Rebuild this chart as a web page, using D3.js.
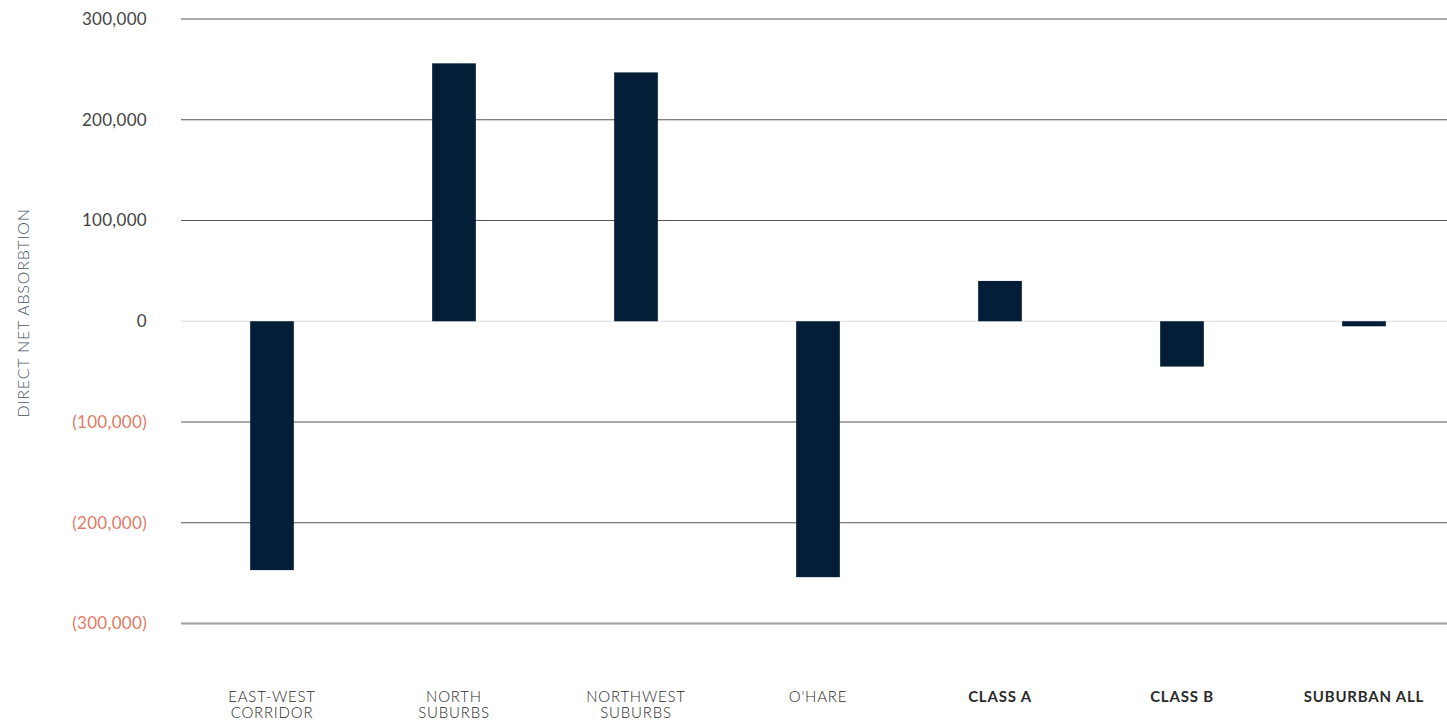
<!DOCTYPE html>
<html>
<head>
<meta charset="utf-8">
<script src="https://cdn.jsdelivr.net/npm/d3@7"></script>
<style>
  body { margin: 0; background: #fff; }
  svg text { font-family: Lato, "Open Sans", sans-serif; }
</style>
</head>
<body>
<div id="chart"></div>
<script>
var svgWidth = 1447;
var svgHeight = 725;

// data
var categories = ["EAST-WEST|CORRIDOR", "NORTH|SUBURBS", "NORTHWEST|SUBURBS", "O'HARE", "CLASS A", "CLASS B", "SUBURBAN ALL"];
var boldLabels = ["CLASS A", "CLASS B", "SUBURBAN ALL"];
var absorption = [-247000, 256000, 247000, -254000, 40000, -45000, -5000];
var yTicks = [300000, 200000, 100000, 0, -100000, -200000, -300000];

var plotLeft = 181, plotRight = 1447, plotTop = 19, plotBottom = 623.5;

var svg = d3.select("#chart")
    .append("svg")
    .attr("width", svgWidth)
    .attr("height", svgHeight);

var xScale = d3.scaleBand()
    .domain(categories)
    .range([plotLeft, plotLeft + 182 * 7])
    .paddingInner(0.76)
    .paddingOuter(0.38);

var yScale = d3.scaleLinear()
    .domain([-300000, 300000])
    .range([plotBottom, plotTop]);

var fmt = d3.format(",");

// gridlines
svg.append("g")
    .selectAll("line")
    .data(yTicks)
    .enter()
    .append("line")
    .attr("x1", plotLeft)
    .attr("x2", plotRight)
    .attr("y1", d => yScale(d))
    .attr("y2", d => yScale(d))
    .attr("stroke", d => d === 0 ? "#dcdcdc" : (d === -300000 ? "#a0a0a0" : "#555"))
    .attr("stroke-width", d => d === -300000 ? 2 : 1);

// y tick labels
svg.append("g")
    .selectAll("text")
    .data(yTicks)
    .enter()
    .append("text")
    .attr("x", 147)
    .attr("y", d => yScale(d))
    .attr("dy", "0.35em")
    .style("text-anchor", "end")
    .style("font-size", "17px")
    .style("letter-spacing", "0.3px")
    .style("fill", d => d < 0 ? "#e07a66" : "#444")
    .text(d => d < 0 ? "(" + fmt(-d) + ")" : fmt(d));

// bars
svg.append("g")
    .selectAll("rect")
    .data(absorption)
    .enter()
    .append("rect")
    .attr("x", (d, i) => xScale(categories[i]))
    .attr("width", xScale.bandwidth())
    .attr("y", d => yScale(Math.max(0, d)))
    .attr("height", d => Math.abs(yScale(d) - yScale(0)))
    .attr("fill", "#041e37");

// x labels
var xLabels = svg.append("g")
    .selectAll("text")
    .data(categories)
    .enter()
    .append("text")
    .attr("x", d => xScale(d) + xScale.bandwidth() / 2)
    .attr("y", 702)
    .style("text-anchor", "middle")
    .style("font-size", "15px")
    .style("letter-spacing", "0.8px")
    .style("fill", "#2a2a2a")
    .style("font-weight", d => boldLabels.includes(d) ? 700 : 300);

xLabels.each(function (d) {
    var parts = d.split("|");
    var t = d3.select(this);
    parts.forEach(function (p, i) {
        t.append("tspan")
            .attr("x", xScale(d) + xScale.bandwidth() / 2)
            .attr("dy", i === 0 ? 0 : 16)
            .text(p);
    });
});

// axis title
svg.append("text")
    .attr("transform", "translate(29, 313) rotate(-90)")
    .style("text-anchor", "middle")
    .style("font-size", "16px")
    .style("letter-spacing", "0.8px")
    .style("font-weight", 300)
    .style("fill", "#44546a")
    .text("DIRECT NET ABSORBTION");
</script>
</body>
</html>
